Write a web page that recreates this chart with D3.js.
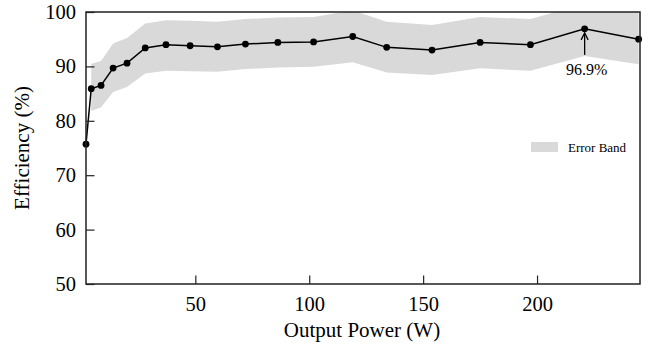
<!DOCTYPE html>
<html>
<head>
<meta charset="utf-8">
<script src="https://cdn.jsdelivr.net/npm/d3@7"></script>
<style>
	html, body { margin: 0; padding: 0; background: #fff; }
	svg { display: block; font-family: "Liberation Serif", "DejaVu Serif", serif; }
</style>
</head>
<body>
<svg id="chart"></svg>
<script>
// data
const power = [2, 4.3, 8.6, 13.9, 20, 28, 37.1, 47.7, 59.7, 72, 86.2, 101.9, 119.1, 134, 153.9, 175, 197.1, 220.9, 244.6];
const efficiency = [75.7, 85.9, 86.5, 89.7, 90.6, 93.4, 94.0, 93.8, 93.6, 94.1, 94.4, 94.5, 95.5, 93.5, 93.0, 94.4, 94.0, 96.9, 95.0];
// error band (no band on the first point)
const bandLow  = [null, 81.8, 82.5, 85.3, 86.2, 88.7, 89.2, 89.1, 89.0, 89.5, 89.8, 89.95, 90.75, 88.9, 88.4, 89.65, 89.2, 91.9, 90.4];
const bandHigh = [null, 90.5, 91.0, 94.2, 95.2, 97.9, 98.5, 98.4, 98.2, 98.7, 99.0, 99.1, 100.3, 98.2, 97.6, 99.1, 98.7, 101.5, 99.9];
const xTicks = [50, 100, 150, 200];
const yTicks = [50, 60, 70, 80, 90, 100];
const peakIndex = 17;
const peakLabel = "96.9%";

const width = 648;
const height = 345;
const margin = { top: 12, right: 8, bottom: 61, left: 86 };

const svg = d3.select("#chart")
              .attr("width", width)
              .attr("height", height);

const x = d3.scaleLinear([2, 245.2], [margin.left, width - margin.right]);
const y = d3.scaleLinear([50, 100], [height - margin.bottom, margin.top]);

// clip for the band / line
svg.append("clipPath")
   .attr("id", "plot-clip")
   .append("rect")
   .attr("x", margin.left)
   .attr("y", margin.top)
   .attr("width", width - margin.left - margin.right)
   .attr("height", height - margin.top - margin.bottom);

const I = d3.range(power.length);

// error band
const area = d3.area()
               .defined(i => bandLow[i] != null)
               .x(i => x(power[i]))
               .y0(i => y(bandLow[i]))
               .y1(i => y(bandHigh[i]));

svg.append("path")
   .attr("clip-path", "url(#plot-clip)")
   .attr("fill", "#d9d9d9")
   .attr("d", area(I));

// efficiency line
const line = d3.line()
               .x(i => x(power[i]))
               .y(i => y(efficiency[i]));

svg.append("path")
   .attr("fill", "none")
   .attr("stroke", "#000")
   .attr("stroke-width", 1.5)
   .attr("d", line(I));

svg.append("g")
   .selectAll("circle")
   .data(I)
   .join("circle")
   .attr("cx", i => x(power[i]))
   .attr("cy", i => y(efficiency[i]))
   .attr("r", 3.4)
   .attr("fill", "#000");

// axes (ticks point inward)
const xAxis = d3.axisBottom(x).tickValues(xTicks).tickSize(-8.5).tickPadding(12).tickSizeOuter(0);
const yAxis = d3.axisLeft(y).tickValues(yTicks).tickSize(-8.5).tickPadding(10).tickSizeOuter(0);

svg.append("g")
   .attr("transform", `translate(0, ${height - margin.bottom})`)
   .call(xAxis)
   .call(g => g.select(".domain").remove())
   .call(g => g.selectAll(".tick line").attr("stroke", "#222").attr("stroke-width", 1.2))
   .call(g => g.selectAll(".tick text").attr("font-size", 20.5).attr("font-family", "Liberation Serif").attr("fill", "#000"));

svg.append("g")
   .attr("transform", `translate(${margin.left}, 0)`)
   .call(yAxis)
   .call(g => g.select(".domain").remove())
   .call(g => g.selectAll(".tick line").attr("stroke", "#222").attr("stroke-width", 1.2))
   .call(g => g.selectAll(".tick text").attr("font-size", 20.5).attr("font-family", "Liberation Serif").attr("fill", "#000"));

// frame
svg.append("rect")
   .attr("x", margin.left)
   .attr("y", margin.top)
   .attr("width", width - margin.left - margin.right)
   .attr("height", height - margin.top - margin.bottom)
   .attr("fill", "none")
   .attr("stroke", "#222")
   .attr("stroke-width", 1.5);

// axis labels
svg.append("text")
   .attr("x", 362)
   .attr("y", 337)
   .attr("text-anchor", "middle")
   .attr("font-size", 21)
   .attr("fill", "#000")
   .text("Output Power (W)");

svg.append("text")
   .attr("transform", `translate(29, ${(margin.top + height - margin.bottom) / 2}) rotate(-90)`)
   .attr("text-anchor", "middle")
   .attr("font-size", 21)
   .attr("fill", "#000")
   .text("Efficiency (%)");

// peak annotation
const px = x(power[peakIndex]);
const py = y(efficiency[peakIndex]);
const arrow = svg.append("g")
                 .attr("fill", "none")
                 .attr("stroke", "#000")
                 .attr("stroke-width", 1.3);
arrow.append("line")
     .attr("x1", px).attr("y1", py + 26)
     .attr("x2", px).attr("y2", py + 4);
arrow.append("path")
     .attr("d", `M${px - 3.5},${py + 11} L${px},${py + 4} L${px + 3.5},${py + 11}`);

svg.append("text")
   .attr("x", px + 2)
   .attr("y", py + 46)
   .attr("text-anchor", "middle")
   .attr("font-size", 16)
   .attr("fill", "#000")
   .text(peakLabel);

// legend
const legend = svg.append("g")
                  .attr("transform", "translate(531, 142)");
legend.append("rect")
      .attr("width", 27)
      .attr("height", 10)
      .attr("fill", "#d9d9d9");
legend.append("text")
      .attr("x", 37)
      .attr("y", 10)
      .attr("font-size", 13)
      .attr("fill", "#000")
      .text("Error Band");
</script>
</body>
</html>
